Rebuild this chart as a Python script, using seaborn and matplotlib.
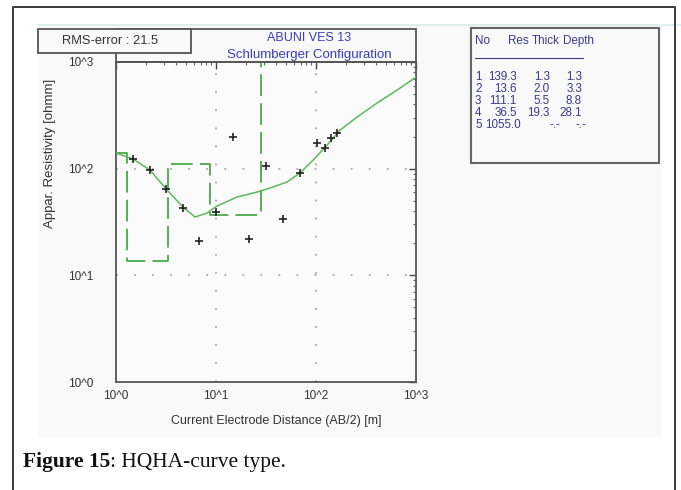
import matplotlib
matplotlib.use("Agg")
import matplotlib.pyplot as plt
from matplotlib.patches import Rectangle
from matplotlib.lines import Line2D
import matplotlib.ticker as mticker
import seaborn as sns
import pandas as pd
import numpy as np

# ---------------- data ----------------
obs_ab2 = [1.48, 2.19, 3.16, 4.68, 6.76, 10.0, 14.8, 21.4, 31.6, 46.8, 69.2, 102, 123, 141, 162]
obs_rho = [123, 97, 64.5, 42.7, 20.9, 39.3, 197, 21.9, 106, 33.6, 91, 175, 156, 194, 216]

fit_ab2 = [1.0, 1.48, 2.19, 3.24, 4.68, 6.17, 8.13, 10.2, 16.2, 25.7, 34.7, 51.3, 69.2,
           93.3, 129, 174, 257, 407, 646, 1000]
fit_rho = [140, 123, 97, 63, 43.6, 35.2, 38.4, 44.6, 54.2, 60.3, 65.8, 74.9, 91,
           120, 166, 230, 304, 412, 545, 721]

layer_no = [1, 2, 3, 4, 5]
layer_res = [139.3, 13.6, 111.1, 36.5, 1055.0]
layer_thick = [1.3, 2.0, 5.5, 19.3, None]
layer_depth = [1.3, 3.3, 8.8, 28.1, None]

x_ticks = [1, 10, 100, 1000]
x_ticklabels = ["10^0", "10^1", "10^2", "10^3"]
y_ticks = [1, 10, 100, 1000]
y_ticklabels = ["10^0", "10^1", "10^2", "10^3"]

title_lines = ["ABUNI VES 13", "Schlumberger Configuration"]
rms_text = "RMS-error : 21.5"
xlabel = "Current Electrode Distance (AB/2) [m]"
ylabel = "Appar. Resistivity [ohmm]"
table_header = ["No", "Res", "Thick", "Depth"]

# ---------------- style ----------------
sns.set_style("white")
plt.rcParams["font.family"] = ["Liberation Sans", "DejaVu Sans"]

W, H = 681, 490
fig = plt.figure(figsize=(W / 100, H / 100), dpi=100)
fig.patch.set_facecolor("white")

def fx(px):
    return px / W

def fy(py):
    return 1 - py / H

FS = 9

# screenshot background region
fig.add_artist(Rectangle((fx(38), fy(437)), fx(662) - fx(38), fy(25) - fy(437),
                         transform=fig.transFigure, facecolor="#f9f9f9",
                         edgecolor="none", zorder=0))
fig.add_artist(Line2D([fx(38), fx(681)], [fy(25), fy(25)], transform=fig.transFigure,
                      color="#d6ecec", lw=1.2, zorder=1))
# outer border
fig.add_artist(Line2D([fx(13), fx(13), fx(675), fx(675)], [0, fy(7), fy(7), 0],
                      transform=fig.transFigure, color="#3a3a3a", lw=1.4, zorder=1))

ax = fig.add_axes([fx(116), fy(382), fx(416) - fx(116), fy(62) - fy(382)])
ax.set_facecolor("#fbfbfb")
ax.set_xscale("log")
ax.set_yscale("log")
ax.set_xlim(1, 1000)
ax.set_ylim(1, 1000)

green = "#4aa84a"

# model (layer) step line
step_x = [1.0] + [d for d in layer_depth if d is not None] + [1000]
step_y = layer_res + [layer_res[-1]]
df_model = pd.DataFrame({"x": step_x, "y": step_y})
sns.lineplot(data=df_model, x="x", y="y", ax=ax, sort=False, estimator=None,
             drawstyle="steps-post", color=green, lw=1.3, dashes=False,
             linestyle=(0, (12, 4)), zorder=3)

# fitted curve
df_fit = pd.DataFrame({"x": fit_ab2, "y": fit_rho})
sns.lineplot(data=df_fit, x="x", y="y", ax=ax, sort=False, estimator=None,
             color="#5cb85c", lw=1.1, zorder=4)

# observations
df_obs = pd.DataFrame({"x": obs_ab2, "y": obs_rho})
sns.scatterplot(data=df_obs, x="x", y="y", ax=ax, marker="+", s=35,
                color="#222222", linewidth=1.2, zorder=5)

ax.set_xlabel("")
ax.set_ylabel("")

# grid at decades only
for v in [10, 100]:
    ax.axvline(v, color="#a8a8a8", lw=1.3, linestyle=(0, (1, 9)), zorder=1)
    ax.axhline(v, color="#a8a8a8", lw=1.3, linestyle=(0, (1, 9)), zorder=1)

ax.xaxis.set_major_locator(mticker.FixedLocator(x_ticks))
ax.xaxis.set_major_formatter(mticker.FixedFormatter(x_ticklabels))
ax.yaxis.set_major_locator(mticker.FixedLocator(y_ticks))
ax.yaxis.set_major_formatter(mticker.FixedFormatter(y_ticklabels))
ax.xaxis.set_minor_locator(mticker.LogLocator(base=10, subs=np.arange(2, 10)))
ax.yaxis.set_minor_locator(mticker.LogLocator(base=10, subs=np.arange(2, 10)))
ax.xaxis.set_minor_formatter(mticker.NullFormatter())
ax.yaxis.set_minor_formatter(mticker.NullFormatter())
ax.tick_params(which="major", direction="in", length=5, width=1, color="#444444",
               top=True, right=True, labelsize=8.5, labelcolor="#333333")
ax.tick_params(which="minor", direction="in", length=2.5, width=0.8, color="#666666",
               top=True, right=True)
ax.tick_params(axis="x", which="major", pad=6)
ax.tick_params(axis="y", which="major", pad=16)
for sp in ax.spines.values():
    sp.set_color("#555555")
    sp.set_linewidth(1.3)

# title box above axes
ax.add_patch(Rectangle((0, 1), 1, 33 / 320, transform=ax.transAxes, fill=False,
                       edgecolor="#555555", lw=1.3, clip_on=False, zorder=6))
ax.text(0.645, (382 - 38) / 320, title_lines[0], transform=ax.transAxes,
        ha="center", va="center", fontsize=FS, color="#3b3bbf")
ax.text(0.645, (382 - 55) / 320, title_lines[1], transform=ax.transAxes,
        ha="center", va="center", fontsize=FS + 0.5, color="#3b3bbf")

# RMS box
fig.add_artist(Rectangle((fx(38), fy(53)), fx(191) - fx(38), fy(29) - fy(53),
                         transform=fig.transFigure, facecolor="#f9f9f9",
                         edgecolor="#555555", lw=1.3, zorder=7))
fig.text(fx(62), fy(41), rms_text, ha="left", va="center", fontsize=FS + 0.3,
         color="#333333", zorder=8)

# axis labels
fig.text(fx(276), fy(421), xlabel, ha="center", va="center", fontsize=FS, color="#333333")
fig.text(fx(50), fy(153), ylabel, ha="center", va="center", rotation=90,
         fontsize=FS + 0.5, color="#333333")

# layer table
fig.add_artist(Rectangle((fx(471), fy(163)), fx(659) - fx(471), fy(28) - fy(163),
                         transform=fig.transFigure, facecolor="#f9f9f9",
                         edgecolor="#666666", lw=1.5, zorder=2))
tcol = "#3a3a8c"
TFS = 8.4
hdr_x = [475, 508, 532, 563]
for txt, px in zip(table_header, hdr_x):
    fig.text(fx(px), fy(41), txt, ha="left", va="center", fontsize=TFS, color=tcol)
fig.add_artist(Line2D([fx(475), fx(583)], [fy(58), fy(58)], transform=fig.transFigure,
                      color=tcol, lw=0.8))
row_y = [77, 89, 101, 113, 125]
for i in range(len(layer_no)):
    yy = fy(row_y[i])
    fig.text(fx(475), yy, str(layer_no[i]), ha="left", va="center", fontsize=TFS, color=tcol)
    if layer_thick[i] is None:
        fig.text(fx(485), yy, f"{layer_res[i]:.1f}", ha="left", va="center",
                 fontsize=TFS, color=tcol)
        fig.text(fx(549), yy, "-.-", ha="left", va="center", fontsize=TFS, color=tcol)
        fig.text(fx(576), yy, "-.-", ha="left", va="center", fontsize=TFS, color=tcol)
    else:
        fig.text(fx(517), yy, f"{layer_res[i]:.1f}", ha="right", va="center",
                 fontsize=TFS, color=tcol)
        fig.text(fx(550), yy, f"{layer_thick[i]:.1f}", ha="right", va="center",
                 fontsize=TFS, color=tcol)
        fig.text(fx(582), yy, f"{layer_depth[i]:.1f}", ha="right", va="center",
                 fontsize=TFS, color=tcol)

# caption
cap1 = fig.text(fx(23), fy(462), "Figure 15", ha="left", va="center", fontsize=15.5,
                fontweight="bold", family=["Liberation Serif", "DejaVu Serif"], color="#111111")
fig.canvas.draw()
bb = cap1.get_window_extent(renderer=fig.canvas.get_renderer())
x_end = bb.x1 / fig.bbox.width
fig.text(x_end, fy(462), ": HQHA-curve type.", ha="left", va="center", fontsize=15.5,
         family=["Liberation Serif", "DejaVu Serif"], color="#111111")

fig.savefig("out.png", dpi=100)
